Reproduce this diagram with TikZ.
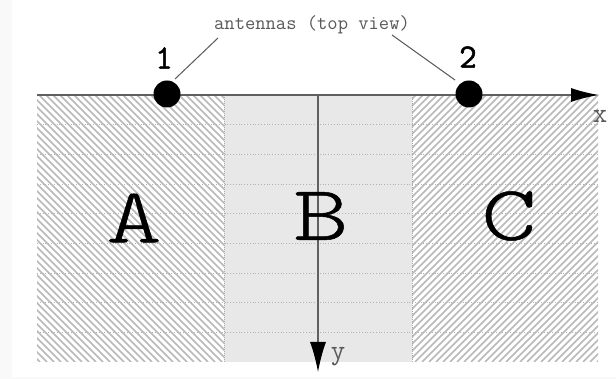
\documentclass[tikz,border=0pt]{standalone}
\usepackage{fontspec}
\newfontfamily\widett[FakeStretch=1.35,FakeBold=0.6]{lmmonolt10-regular.otf}
\newfontfamily\boldtt[FakeBold=1.5]{Latin Modern Mono}
\usetikzlibrary{arrows.meta}
\begin{document}
\begin{tikzpicture}[x=1pt,y=-1pt,
  hatch/.style={gray!55,line width=1.5pt},
  gridline/.style={gray!60,dotted,line width=0.8pt},
  divider/.style={gray!65,densely dotted,line width=1pt},
  axis/.style={gray!75!black,line width=1.5pt},
  antenna/.style={circle,fill=black,inner sep=0pt,minimum size=27pt},
  region/.style={font=\widett\fontsize{78}{78}\selectfont,inner sep=0pt},
  num/.style={font=\boldtt\fontsize{34}{34}\selectfont,inner sep=0pt},
  axlabel/.style={font=\ttfamily\fontsize{28}{28}\selectfont,text=gray!70!black,inner sep=0pt},
  leader/.style={gray!70!black,line width=1pt}]
\useasboundingbox (0,0) rectangle (616,379);
\fill[gray!5] (0,0) rectangle (616,379);
\fill[white] (12,0) rectangle (616,377);
% region B fill
\fill[gray!18] (224,95) rectangle (412,362);
% hatching A
\begin{scope}
\clip (37,95) rectangle (224,362);
\foreach \i in {-234,-227,...,230} {
  \draw[hatch] (\i,95) -- ++(267,267);
}
\end{scope}
% hatching C
\begin{scope}
\clip (412,95) rectangle (598,362);
\foreach \i in {142,149,...,604} {
  \draw[hatch] (\i,362) -- ++(267,-267);
}
\end{scope}
% dotted horizontal lines
\foreach \k in {1,...,8} {
  \draw[gridline] (37,95+29.67*\k) -- (598,95+29.67*\k);
}
% dividers
\draw[divider] (224,95) -- (224,362);
\draw[divider] (412,95) -- (412,362);
% axes
\coordinate (o) at (37,95);
\coordinate (xend) at (599,95);
\coordinate (yo) at (318,95);
\coordinate (yend) at (318,372);
\draw[axis,-{Latex[black,length=28pt,width=14pt]}] (o) -- (xend);
\draw[axis,line width=1.1pt,-{Latex[black,length=30pt,width=16pt]}] (yo) -- (yend);
\node[axlabel] (xl) at (600,116) {x};
\node[axlabel] (yl) at (338,357) {y};
% region labels
\node[region] (A) at (134,218) {A};
\node[region] (B) at (321,216) {B};
\node[region] (C) at (509,216) {C};
% antennas
\node[antenna] (a1) at (167,94) {};
\node[antenna] (a2) at (469,94) {};
\node[num] (n1) at (164,58) {1};
\node[num] (n2) at (468,57) {2};
\node[font=\ttfamily\fontsize{20}{20}\selectfont,text=gray!70!black,inner sep=0pt] (lab) at (312,25) {antennas (top view)};
\coordinate (l1s) at (218,38);
\coordinate (l1e) at (175,79);
\coordinate (l2s) at (392,35);
\coordinate (l2e) at (455,80);
\draw[leader] (l1s) -- (l1e);
\draw[leader] (l2s) -- (l2e);
\end{tikzpicture}
\end{document}
